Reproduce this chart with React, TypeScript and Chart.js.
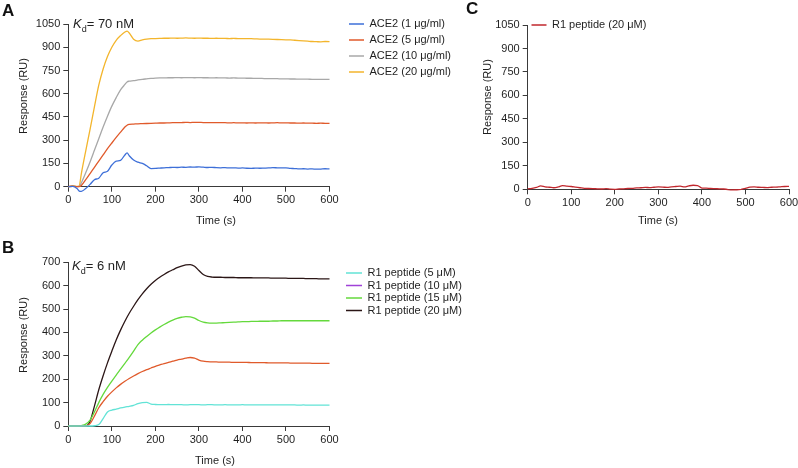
import React, { useEffect, useRef } from 'react';
import { Chart, registerables } from 'chart.js';

Chart.register(...registerables);

const FONT = '"Liberation Sans", Arial, Helvetica, sans-serif';
const TEXT = '#1f1f1f';
const AXIS = '#3a3a3a';

// ---------- Panel A : ACE2 ----------
const timeA = [0, 10, 20, 25, 30, 40, 50, 60, 70, 80, 90, 100, 110, 120, 130, 135,
  140, 150, 160, 170, 180, 190, 200, 210, 220, 230, 240, 250, 260, 270, 280, 290, 300,
  310, 320, 330, 340, 350, 360, 370, 380, 390, 400, 410, 420, 430, 440, 450, 460, 470,
  480, 490, 500, 510, 520, 530, 540, 550, 560, 570, 580, 590, 600, 610, 620];
const ace2_1 = [0, 2, -12, -28, -30, -12, 15, 45, 55, 90, 100, 140, 165, 170, 205, 218,
  200, 172, 158, 150, 135, 117, 118, 120, 122, 123, 125, 124, 126, 125, 127, 126, 128,
  126, 124, 125, 123, 122, 123, 121, 122, 120, 121, 119, 118, 120, 119, 120, 121, 123,
  122, 121, 122, 118, 117, 115, 116, 114, 115, 113, 114, 116, 115, 117, 118];
const ace2_5 = [0, 3, 0, 0, 8, 45, 85, 125, 165, 205, 245, 282, 318, 352, 385, 397,
  402, 404, 406, 407, 408, 409, 410, 411, 411, 412, 413, 413, 414, 415, 414, 415, 415,
  414, 414, 413, 414, 413, 413, 412, 413, 412, 412, 411, 412, 411, 412, 412, 411, 412,
  413, 412, 412, 411, 411, 410, 411, 410, 410, 409, 410, 409, 409, 410, 410];
const ace2_10 = [0, 4, 1, 2, 25, 90, 160, 235, 310, 385, 455, 520, 575, 625, 660, 676,
  681, 684, 689, 693, 696, 699, 701, 702, 702, 703, 703, 704, 703, 704, 704, 703, 704,
  703, 703, 702, 703, 702, 702, 701, 702, 701, 701, 700, 700, 699, 699, 698, 698, 697,
  697, 696, 696, 695, 695, 694, 694, 694, 693, 693, 693, 692, 692, 692, 691];
const ace2_20 = [0, 6, 2, 5, 85, 230, 370, 515, 655, 760, 840, 900, 945, 975, 998, 1004,
  992, 952, 940, 947, 952, 955, 956, 957, 958, 958, 959, 958, 959, 960, 959, 958, 959,
  958, 958, 957, 958, 957, 957, 956, 957, 956, 956, 955, 955, 954, 953, 953, 952, 951,
  950, 949, 948, 947, 945, 943, 941, 939, 937, 936, 935, 937, 936, 934, 935];
const labelsA = ['ACE2 (1 μg/ml)', 'ACE2 (5 μg/ml)', 'ACE2 (10 μg/ml)', 'ACE2 (20 μg/ml)'];
const colorsA = ['#3d6fd8', '#e05a2b', '#a8a8a8', '#f3b52c'];

// ---------- Panel B : R1 peptide ----------
const timeB = [0, 10, 20, 30, 40, 50, 60, 70, 80, 90, 100, 110, 120, 130, 140, 150,
  160, 170, 180, 190, 200, 210, 220, 230, 240, 250, 260, 270, 280, 290, 300, 310, 320,
  330, 340, 350, 360, 370, 380, 390, 400, 410, 420, 430, 440, 450, 460, 470, 480, 490,
  500, 510, 520, 530, 540, 550, 560, 570, 580, 590, 600, 610, 620, 630];
const r1_5 = [0, 0, 0, 0, 0, 0, 1, 6, 32, 60, 68, 72, 77, 81, 84, 88,
  96, 100, 101, 94, 92, 91, 91, 92, 91, 91, 91, 90, 91, 91, 91, 90, 91,
  91, 90, 90, 91, 90, 90, 90, 91, 90, 90, 90, 90, 90, 90, 90, 90, 90,
  90, 90, 90, 89, 90, 89, 89, 89, 89, 89, 89, 89, 89, 89];
const r1_10 = [0, 0, 0, 0, 0, 10, 42, 78, 104, 127, 146, 163, 178, 191, 203, 214,
  224, 233, 241, 248, 255, 261, 267, 272, 277, 282, 286, 290, 293, 290, 282, 277, 275,
  274, 274, 273, 273, 273, 272, 272, 272, 272, 271, 271, 271, 271, 270, 270, 270, 270,
  270, 269, 269, 269, 269, 269, 268, 268, 268, 268, 268, 267, 267, 267];
const r1_15 = [0, 0, 0, 2, 8, 25, 60, 100, 135, 165, 192, 218, 243, 268, 293, 320,
  348, 367, 383, 398, 411, 423, 434, 444, 453, 460, 465, 468, 467, 461, 451, 444, 441,
  440, 440, 441, 442, 443, 444, 445, 446, 446, 447, 447, 448, 448, 448, 449, 449, 450,
  450, 450, 450, 450, 450, 450, 450, 450, 450, 450, 450, 450, 450, 450];
const r1_20 = [0, 0, 0, 0, 0, 20, 85, 155, 215, 270, 320, 368, 410, 448, 482, 512,
  540, 565, 587, 606, 622, 636, 648, 659, 668, 677, 684, 689, 690, 683, 665, 648, 640,
  637, 636, 636, 635, 635, 635, 634, 634, 634, 634, 633, 633, 633, 633, 632, 632, 632,
  632, 631, 631, 631, 631, 630, 630, 630, 629, 629, 629, 628, 628, 628];
const labelsB = ['R1 peptide (5 μM)', 'R1 peptide (10 μM)', 'R1 peptide (15 μM)', 'R1 peptide (20 μM)'];
const lineColorsB = ['#62e3d6', '#e05a2b', '#64d93c', '#2b1616'];
const legendColorsB = ['#62e3d6', '#a042d8', '#64d93c', '#2b1616'];

// ---------- Panel C : R1 peptide control ----------
const timeC = [0, 10, 20, 30, 40, 50, 60, 70, 80, 90, 100, 110, 120, 130, 140, 150,
  160, 170, 180, 190, 200, 210, 220, 230, 240, 250, 260, 270, 280, 290, 300, 310, 320,
  330, 340, 350, 360, 370, 380, 390, 400, 410, 420, 430, 440, 450, 460, 470, 480, 490,
  500, 510, 520, 530, 540, 550, 560, 570, 580, 590, 600];
const r1_20_ctrl = [3, 6, 12, 22, 15, 13, 10, 15, 24, 20, 18, 14, 10, 6, 5, 4,
  3, 2, 4, 1, 0, 2, 3, 5, 6, 9, 10, 12, 11, 13, 15, 14, 12,
  16, 18, 20, 15, 22, 26, 24, 8, 7, 5, 4, 3, 2, -2, -4, -3, 0,
  6, 14, 16, 13, 12, 11, 13, 14, 16, 18, 19];
const labelsC = ['R1 peptide (20 μM)'];
const colorsC = ['#c1272d'];

// axis ranges
const xRange = { min: 0, max: 600, step: 100 };
const yRangeA = { min: 0, max: 1050, step: 150 };
const yRangeB = { min: 0, max: 700, step: 100 };
const yRangeC = { min: 0, max: 1050, step: 150 };

type Panel = {
  times: number[];
  series: number[][];
  labels: string[];
  lineColors: string[];
  legendColors: string[];
  yRange: { min: number; max: number; step: number };
  w: number;
  h: number;
  area: { left: number; right: number; top: number; bottom: number };
  legend: { left: number; top: number; font: number; pad: number; boxW: number };
};

function buildChart(canvas: HTMLCanvasElement, p: Panel) {
  const datasets = p.series.map((vals, i) => ({
    label: p.labels[i],
    data: vals.map((v, j) => ({ x: p.times[j], y: v })),
    borderColor: p.lineColors[i],
    backgroundColor: p.lineColors[i],
    pointBorderColor: p.legendColors[i],
    pointBackgroundColor: p.legendColors[i],
    pointBorderWidth: 1.5,
    borderWidth: 1.3,
    pointRadius: 0,
    pointHoverRadius: 0,
    cubicInterpolationMode: 'monotone',
    clip: false,
    fill: false,
  }));
  const placer = {
    id: 'legendPlacer',
    beforeDraw(chart: any) {
      const lg = chart.legend;
      if (!lg) return;
      const w = lg.width;
      const h = lg.height;
      lg.left = p.legend.left;
      lg.top = p.legend.top;
      lg.right = p.legend.left + w;
      lg.bottom = p.legend.top + h;
    },
  };
  const tickFont = { family: FONT, size: 11 };
  const plain = (v: any) => String(v);
  return new Chart(canvas, {
    type: 'line',
    data: { datasets: datasets as any },
    plugins: [placer],
    options: {
      responsive: false,
      maintainAspectRatio: false,
      animation: false,
      events: [],
      layout: { padding: { left: 0, top: p.area.top, right: p.w - p.area.right, bottom: 0 } },
      plugins: {
        tooltip: { enabled: false },
        legend: {
          display: true,
          position: 'chartArea' as any,
          align: 'start',
          labels: {
            usePointStyle: true,
            pointStyle: 'line',
            pointStyleWidth: p.legend.boxW,
            boxHeight: p.legend.font,
            font: { family: FONT, size: p.legend.font },
            color: TEXT,
            padding: p.legend.pad,
          },
        },
      },
      scales: {
        x: {
          type: 'linear',
          min: xRange.min,
          max: xRange.max,
          afterFit(s: any) {
            s.height = p.h - p.area.bottom;
            s.paddingLeft = 0;
            s.paddingRight = 0;
          },
          ticks: { stepSize: xRange.step, font: tickFont, color: TEXT, padding: 2, maxRotation: 0, autoSkip: false, callback: plain },
          grid: { drawOnChartArea: false, tickLength: 5, color: AXIS, lineWidth: 1 },
          border: { color: AXIS, width: 1 },
        },
        y: {
          type: 'linear',
          min: p.yRange.min,
          max: p.yRange.max,
          afterFit(s: any) {
            s.width = p.area.left;
            s.paddingTop = 0;
            s.paddingBottom = 0;
          },
          ticks: { stepSize: p.yRange.step, font: tickFont, color: TEXT, padding: 3, autoSkip: false, callback: plain },
          grid: { drawOnChartArea: false, tickLength: 5, color: AXIS, lineWidth: 1 },
          border: { color: AXIS, width: 1 },
        },
      },
    } as any,
  });
}

const abs = (left: number, top: number, extra: React.CSSProperties = {}): React.CSSProperties => ({
  position: 'absolute',
  left,
  top,
  fontFamily: FONT,
  color: TEXT,
  whiteSpace: 'nowrap',
  ...extra,
});

function YTitle({ cx, cy }: { cx: number; cy: number }) {
  return (
    <div style={abs(cx, cy, { fontSize: 11, lineHeight: '13px', transform: 'translate(-50%,-50%) rotate(-90deg)' })}>
      Response (RU)
    </div>
  );
}
function XTitle({ cx, cy }: { cx: number; cy: number }) {
  return (
    <div style={abs(cx, cy, { fontSize: 11, lineHeight: '13px', transform: 'translate(-50%,-50%)' })}>
      Time (s)
    </div>
  );
}
function Kd({ left, top, text }: { left: number; top: number; text: string }) {
  return (
    <div style={abs(left, top, { fontSize: 13, lineHeight: '13px' })}>
      <i>K</i>
      <span style={{ fontSize: 9, position: 'relative', top: 4 }}>d</span>
      {text}
    </div>
  );
}
function Letter({ left, top, text }: { left: number; top: number; text: string }) {
  return <div style={abs(left, top, { fontSize: 17, lineHeight: '17px', fontWeight: 'bold', color: '#111' })}>{text}</div>;
}

const panelA: Panel = {
  times: timeA,
  series: [ace2_1, ace2_5, ace2_10, ace2_20],
  labels: labelsA,
  lineColors: colorsA,
  legendColors: colorsA,
  yRange: yRangeA,
  w: 470,
  h: 235,
  area: { left: 68.3, right: 329.5, top: 24, bottom: 186.7 },
  legend: { left: 344, top: 13.5, font: 11, pad: 5, boxW: 15 },
};
const panelB: Panel = {
  times: timeB,
  series: [r1_5, r1_10, r1_15, r1_20],
  labels: labelsB,
  lineColors: lineColorsB,
  legendColors: legendColorsB,
  yRange: yRangeB,
  w: 470,
  h: 238,
  area: { left: 68.3, right: 329.5, top: 32.3, bottom: 196 },
  legend: { left: 344.5, top: 36, font: 11, pad: 1.5, boxW: 16 },
};
const panelC: Panel = {
  times: timeC,
  series: [r1_20_ctrl],
  labels: labelsC,
  lineColors: colorsC,
  legendColors: colorsC,
  yRange: yRangeC,
  w: 398,
  h: 235,
  area: { left: 127.7, right: 389, top: 25, bottom: 189.3 },
  legend: { left: 126.5, top: 14.5, font: 11, pad: 5, boxW: 15 },
};

export default function App() {
  const refA = useRef<HTMLCanvasElement>(null);
  const refB = useRef<HTMLCanvasElement>(null);
  const refC = useRef<HTMLCanvasElement>(null);

  useEffect(() => {
    const charts = [
      buildChart(refA.current!, panelA),
      buildChart(refB.current!, panelB),
      buildChart(refC.current!, panelC),
    ];
    return () => charts.forEach((c) => c.destroy());
  }, []);

  return (
    <div style={{ position: 'fixed', left: 0, top: 0, width: 798, height: 468, background: '#fff', overflow: 'hidden' }}>
      <canvas ref={refA} width={panelA.w} height={panelA.h} style={{ position: 'absolute', left: 0, top: 0, width: panelA.w, height: panelA.h }} />
      <canvas ref={refB} width={panelB.w} height={panelB.h} style={{ position: 'absolute', left: 0, top: 230, width: panelB.w, height: panelB.h }} />
      <canvas ref={refC} width={panelC.w} height={panelC.h} style={{ position: 'absolute', left: 400, top: 0, width: panelC.w, height: panelC.h }} />

      <Letter left={2} top={2} text="A" />
      <Letter left={2} top={239} text="B" />
      <Letter left={466} top={0} text="C" />

      <Kd left={73} top={17} text="= 70 nM" />
      <Kd left={72} top={259} text="= 6 nM" />

      <YTitle cx={22.7} cy={96} />
      <YTitle cx={22.7} cy={335} />
      <YTitle cx={487.3} cy={97} />

      <XTitle cx={216} cy={220} />
      <XTitle cx={215} cy={460} />
      <XTitle cx={658} cy={220} />
    </div>
  );
}
